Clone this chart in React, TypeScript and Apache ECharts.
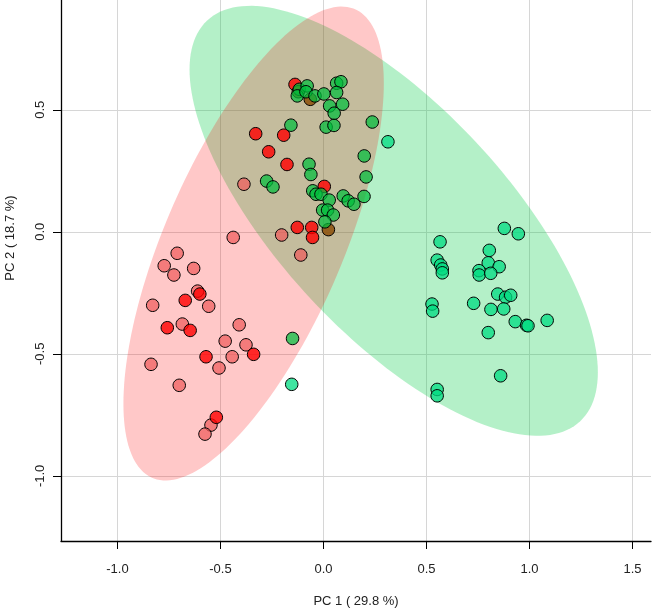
import { useEffect, useRef } from "react";
import * as echarts from "echarts";

const xTicks = [-1, -0.5, 0, 0.5, 1, 1.5];
const yTicks = [-1, -0.5, 0, 0.5];

// points: [PC1, PC2]
const redLight: [number, number][] = [
  [-0.438, -0.023], [-0.71, -0.088], [-0.773, -0.139], [-0.726, -0.177],
  [-0.63, -0.15], [-0.611, -0.243], [-0.557, -0.305], [-0.829, -0.301],
  [-0.685, -0.378], [-0.409, -0.381], [-0.477, -0.448], [-0.376, -0.463],
  [-0.443, -0.512], [-0.507, -0.558], [-0.837, -0.543], [-0.7, -0.629],
  [-0.546, -0.792], [-0.575, -0.829], [-0.386, 0.195], [-0.203, -0.013],
  [-0.11, -0.095],
];

const redBright: [number, number][] = [
  [-0.6, -0.255], [-0.671, -0.281], [-0.758, -0.393], [-0.647, -0.404],
  [-0.339, -0.502], [-0.57, -0.512], [-0.52, -0.76], [-0.138, 0.604],
  [-0.329, 0.402], [-0.193, 0.396], [-0.266, 0.328], [-0.177, 0.276],
  [0.004, 0.186], [-0.127, 0.018], [-0.057, 0.018], [-0.053, -0.023],
];

const brown: [number, number][] = [
  [-0.064, 0.543], [-0.122, 0.574], [0.024, 0.009],
];

const greenDark: [number, number][] = [
  [-0.117, 0.584], [-0.079, 0.598], [-0.127, 0.557], [-0.085, 0.574],
  [-0.041, 0.557], [0.002, 0.565], [0.064, 0.609], [0.085, 0.615],
  [0.064, 0.571], [0.093, 0.523], [0.03, 0.516], [0.052, 0.486],
  [0.013, 0.429], [0.051, 0.436], [-0.158, 0.437], [0.237, 0.45],
  [0.198, 0.311], [0.207, 0.225], [-0.07, 0.277], [-0.061, 0.235],
  [-0.276, 0.208], [-0.245, 0.184], [-0.052, 0.168], [-0.036, 0.154],
  [-0.012, 0.154], [0.028, 0.13], [0.096, 0.147], [0.12, 0.127],
  [0.148, 0.113], [0.197, 0.145], [-0.004, 0.089], [0.02, 0.089],
  [0.048, 0.069], [0.007, 0.041], [-0.15, -0.437],
];

const greenLight: [number, number][] = [
  [0.878, 0.014], [0.946, -0.008], [0.566, -0.041], [0.805, -0.076],
  [0.552, -0.116], [0.569, -0.136], [0.577, -0.152], [0.577, -0.168],
  [0.8, -0.127], [0.853, -0.143], [0.755, -0.159], [0.756, -0.177],
  [0.812, -0.17], [0.846, -0.255], [0.884, -0.268], [0.909, -0.26],
  [0.527, -0.296], [0.53, -0.325], [0.729, -0.293], [0.813, -0.318],
  [0.875, -0.316], [0.931, -0.368], [0.986, -0.383], [0.993, -0.385],
  [1.086, -0.363], [0.8, -0.413], [0.86, -0.59], [0.552, -0.646],
  [0.552, -0.672], [0.313, 0.369], [-0.154, -0.625],
];

// confidence ellipses: centre, spread on each axis, correlation
const ellipseCx = [0.341, -0.339];
const ellipseCy = [0.045, -0.048];
const ellipseRx = [0.991, 0.632];
const ellipseRy = [0.881, 0.971];
const ellipseRho = [-0.704, 0.676];
const ellipseFill = ["rgba(5,205,72,0.3)", "rgba(255,5,5,0.22)"];

const font = "Liberation Sans, Arial, sans-serif";

export default function App() {
  const chartRef = useRef<HTMLDivElement>(null);

  useEffect(() => {
    if (!chartRef.current) return;
    const chart = echarts.init(chartRef.current, null, { renderer: "svg" });

    const points = (data: [number, number][], color: string, z: number) => ({
      type: "scatter" as const,
      data,
      symbol: "circle",
      symbolSize: 12.5,
      z,
      itemStyle: { color, borderColor: "#000", borderWidth: 1, opacity: 1 },
    });

    chart.setOption({
      animation: false,
      grid: {
        left: 61,
        right: 2,
        top: 0,
        bottom: 68,
        containLabel: false,
        outerBoundsMode: "none",
      },
      xAxis: {
        type: "value",
        min: -1.274,
        max: 1.59,
        name: "PC 1 ( 29.8 %)",
        nameLocation: "middle",
        nameGap: 53,
        nameTextStyle: { fontFamily: font, fontSize: 13, color: "#222" },
        axisLine: { onZero: false, lineStyle: { color: "#000", width: 1.3 } },
        axisTick: { customValues: xTicks, length: 8, lineStyle: { color: "#000" } },
        axisLabel: {
          customValues: xTicks,
          margin: 21,
          fontFamily: font,
          fontSize: 13,
          color: "#222",
          formatter: (v: number) => v.toFixed(1),
        },
        splitLine: { show: true, lineStyle: { color: "#d6d6d6", width: 1 } },
      },
      yAxis: {
        type: "value",
        min: -1.267,
        max: 0.95,
        axisLine: { onZero: false, lineStyle: { color: "#000", width: 1.3 } },
        axisTick: { customValues: yTicks, length: 8, lineStyle: { color: "#000" } },
        axisLabel: {
          customValues: yTicks,
          rotate: 90,
          margin: 15,
          fontFamily: font,
          fontSize: 13,
          color: "#222",
          formatter: (v: number) => v.toFixed(1),
        },
        splitLine: { show: true, lineStyle: { color: "#d6d6d6", width: 1 } },
      },
      graphic: [
        {
          type: "text",
          x: 9,
          y: 238,
          rotation: Math.PI / 2,
          style: {
            text: "PC 2 ( 18.7 %)",
            font: `13px ${font}`,
            fill: "#222",
            align: "center",
            verticalAlign: "middle",
          },
        },
      ],
      series: [
        {
          type: "custom",
          data: ellipseCx.map((x, i) => [x, ellipseCy[i]]),
          encode: { x: 0, y: 1 },
          z: 1,
          silent: true,
          renderItem: (params: any, api: any) => {
            const i = params.dataIndex;
            const rho = ellipseRho[i];
            const s = Math.sqrt(1 - rho * rho);
            const pts: number[][] = [];
            for (let k = 0; k < 180; k++) {
              const t = (k / 180) * Math.PI * 2;
              const x = ellipseCx[i] + ellipseRx[i] * Math.cos(t);
              const y = ellipseCy[i] + ellipseRy[i] * (rho * Math.cos(t) + s * Math.sin(t));
              pts.push(api.coord([x, y]));
            }
            return {
              type: "polygon",
              shape: { points: pts },
              style: { fill: ellipseFill[i], stroke: "none" },
            };
          },
        },
        points(redLight, "rgba(240,90,90,0.7)", 3),
        points(redBright, "rgba(255,0,0,0.8)", 3),
        points(brown, "rgba(140,80,10,0.85)", 4),
        points(greenDark, "rgba(0,190,60,0.72)", 5),
        points(greenLight, "rgba(0,220,130,0.75)", 5),
      ],
    });

    return () => chart.dispose();
  }, []);

  return (
    <div
      ref={chartRef}
      style={{ position: "fixed", left: 0, top: 0, width: 653, height: 609 }}
    />
  );
}
